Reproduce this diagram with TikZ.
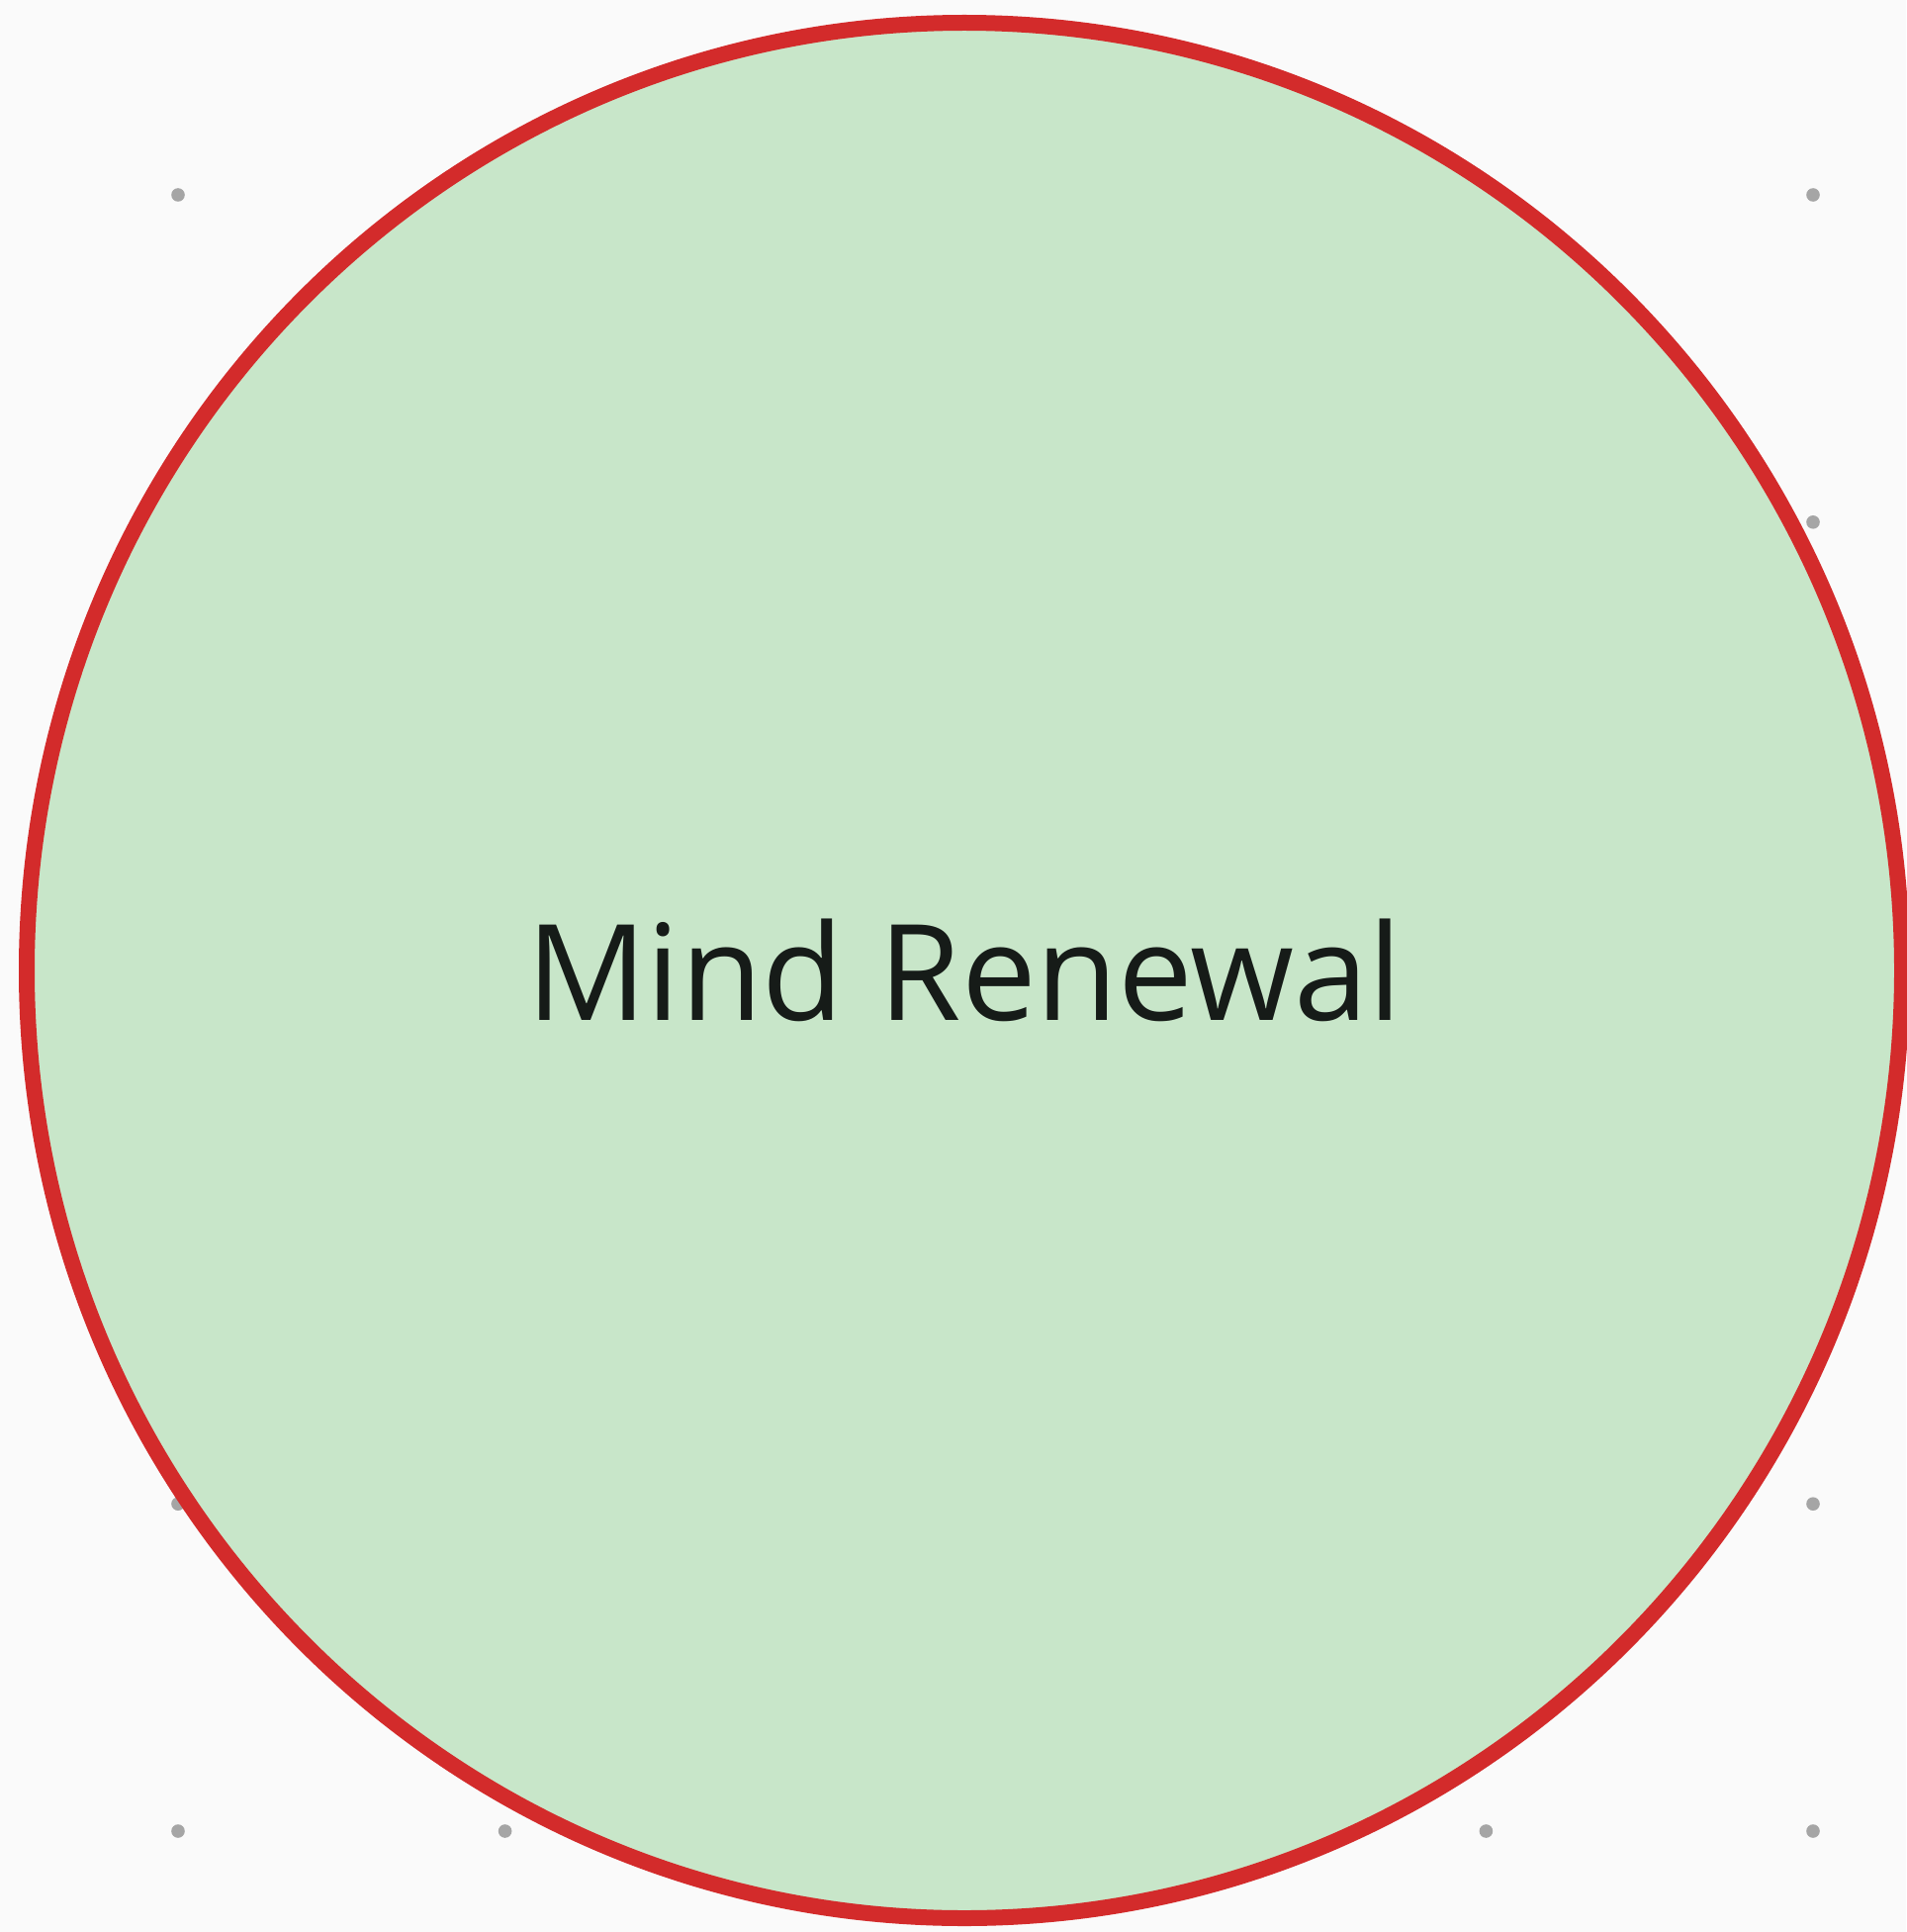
\documentclass[tikz,border=0pt]{standalone}
\usepackage{fontspec}
\setmainfont{Open Sans}
\usepackage{tikz}
\usetikzlibrary{shapes.geometric}
\definecolor{PageGray}{RGB}{250,250,250}
\definecolor{DotGray}{RGB}{165,165,165}
\definecolor{RenewGreen}{RGB}{200,230,201}
\definecolor{RenewRed}{RGB}{211,43,43}
\definecolor{InkDark}{RGB}{22,27,24}

\begin{document}
\begin{tikzpicture}[x=0.5pt, y=-0.5pt,
griddot/.style={fill=DotGray},
bubble/.style={ellipse,draw=RenewRed,line width=8pt,fill=RenewGreen,inner sep=0pt,
  minimum width=948pt,minimum height=958pt,text=InkDark,font=\fontsize{67.5}{80}\selectfont}]
\useasboundingbox (0,0) rectangle (1927,1953);
\fill[PageGray] (0,0) rectangle (1927,1953);
% background grid
\foreach \i in {0,...,5}
  \foreach \j in {0,...,5}
    \fill[griddot] (180+330.6*\i,197+330.8*\j) circle[radius=3.4pt];
\node[bubble] (renewal) at (975,981) {Mind Renewal};
\end{tikzpicture}
\end{document}
